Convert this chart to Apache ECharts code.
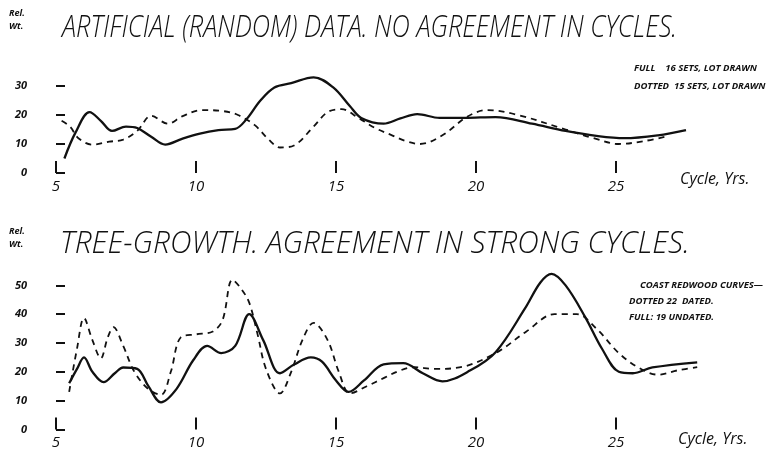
<!DOCTYPE html>
<html><head><meta charset="utf-8">
<script src="https://cdn.jsdelivr.net/npm/echarts@6/dist/echarts.min.js"></script>
<style>html,body{margin:0;padding:0;background:#fff;}#c{width:768px;height:453px;}</style>
</head><body><div id="c"></div>
<script>
// ---- data ----
var xTicks = [5, 10, 15, 20, 25];
var topYTicks = [0, 10, 20, 30];
var botYTicks = [0, 10, 20, 30, 40, 50];

// Artificial (random) data: full = 16 sets, dotted = 15 sets
var artFull = [[5.3,5],[5.7,14],[6.2,21],[6.6,18],[7.0,14.5],[7.5,16],[7.9,15.5],[8.4,12.5],[8.9,9.8],[9.5,11.8],[10.1,13.5],[10.8,14.8],[11.4,15.2],[11.8,18.5],[12.3,25],[12.8,29.5],[13.4,31],[14.2,33],[14.9,29.5],[15.5,23],[15.9,19],[16.7,17],[17.3,18.8],[17.9,20.3],[18.7,19],[19.6,19],[20.7,19.3],[22.0,17],[23.2,14.5],[24.3,12.8],[25.3,12],[26.5,13],[27.5,14.8]];
var artDotted = [[5.2,18],[5.5,16],[5.8,12],[6.3,9.8],[6.9,10.8],[7.4,11.5],[7.9,14.5],[8.4,19.7],[9.0,17],[9.5,19.5],[10.2,21.7],[11.0,21.3],[11.5,20],[12.1,16.5],[12.6,11.5],[13.0,8.8],[13.5,9.5],[14.2,16],[14.7,21],[15.2,22],[15.8,19],[16.4,15.5],[17.0,13],[17.5,11],[18.0,10],[18.8,13],[19.7,19.5],[20.4,21.7],[21.5,20],[23.2,15],[24.2,12],[25.1,10],[26.0,11],[26.9,12.8]];

// Tree growth (coast redwood): full = 19 undated, dotted = 22 dated
var treeFull = [[5.47,16],[5.75,21],[6.0,25],[6.3,20],[6.7,16.4],[7.1,19.5],[7.4,21.5],[7.9,21],[8.3,15],[8.75,9.4],[9.3,14],[9.9,24],[10.4,29],[10.9,26.5],[11.4,29],[11.9,40],[12.4,31],[13.0,19.5],[13.5,22.5],[14.1,25],[14.5,23.5],[15.0,17],[15.45,13],[16.0,17],[16.7,22.6],[17.4,23],[18.1,19.5],[18.8,16.7],[19.8,20.5],[20.7,26.8],[21.75,42],[22.3,51],[22.7,54],[23.2,50],[23.9,39],[24.5,28],[25.1,20],[25.6,19.5],[26.3,21.5],[27.9,23.3]];
var treeDotted = [[5.47,13],[5.75,28],[6.0,38.7],[6.3,31],[6.6,24.7],[6.85,32],[7.05,35.5],[7.4,29],[7.8,20],[8.3,14],[8.75,12],[9.1,20],[9.46,32],[10.0,33],[10.6,34],[10.95,38],[11.3,52],[11.6,49],[11.9,44],[12.2,33],[12.5,21],[13.0,12.5],[13.4,20],[13.8,31],[14.2,37],[14.7,31],[15.1,20],[15.5,12.5],[16.1,15],[16.7,17.8],[17.3,20.5],[17.8,21.6],[18.5,21],[19.4,21.5],[20.7,26.5],[21.8,34],[22.8,40],[23.6,40],[24.3,35],[25.1,26.5],[25.8,21.5],[26.5,19],[27.2,20.5],[27.9,21.6]];

var title1 = 'ARTIFICIAL (RANDOM) DATA. NO AGREEMENT IN CYCLES.';
var title2 = 'TREE-GROWTH. AGREEMENT IN STRONG CYCLES.';
var legend1 = ['FULL    16 SETS, LOT DRAWN', 'DOTTED  15 SETS, LOT DRAWN'];
var legend2 = ['COAST REDWOOD CURVES\u2014', 'DOTTED 22  DATED.', 'FULL: 19 UNDATED.'];
var axisName = 'Cycle, Yrs.';
var yName = ['Rel.', 'Wt.'];

// ---- chart ----
var INK = '#111';
var HAND = '"Open Sans", "DejaVu Sans", sans-serif';

function xAxisCfg(idx) {
  return {
    gridIndex: idx, type: 'value', min: 5, max: 28,
    axisLine: {show: false}, splitLine: {show: false},
    axisTick: {show: true, inside: true, length: 12, customValues: xTicks, lineStyle: {color: INK, width: 2}},
    axisLabel: {customValues: xTicks, margin: 6, color: INK, fontFamily: HAND, fontStyle: 'italic', fontSize: 15}
  };
}
function yAxisCfg(idx, max, ticks) {
  return {
    gridIndex: idx, type: 'value', min: 0, max: max,
    axisLine: {show: false}, splitLine: {show: false},
    axisTick: {show: true, inside: true, length: 9, customValues: ticks, lineStyle: {color: INK, width: 2}},
    axisLabel: {customValues: ticks, margin: 29, color: INK, fontFamily: HAND, fontStyle: 'italic', fontWeight: 'bold', fontSize: 11, align: 'right'}
  };
}
function lineSeries(data, xi, dashed) {
  return {
    type: 'line', xAxisIndex: xi, yAxisIndex: xi, data: data, smooth: 0.35,
    symbol: 'none', silent: true,
    lineStyle: {color: INK, width: dashed ? 1.8 : 2.3, type: dashed ? [6, 5] : 'solid'}
  };
}
function txt(x, y, text, font, sx) {
  return {type: 'text', x: x, y: y, scaleX: sx || 1, silent: true,
    style: {text: text, fill: INK, font: font, textVerticalAlign: 'top'}};
}
var TITLE = 'italic 300 31px ' + HAND;
var SMALL = 'italic bold 9.5px ' + HAND;
var TINY = 'italic bold 9px ' + HAND;
var NAME = 'italic 16px ' + HAND;

var chart = echarts.init(document.getElementById('c'), null, {renderer: 'canvas'});
chart.setOption({
  backgroundColor: '#fff',
  animation: false,
  grid: [
    {left: 56, width: 644, top: 71.5, height: 101.5},
    {left: 56, width: 644, top: 271, height: 158.4}
  ],
  xAxis: [xAxisCfg(0), xAxisCfg(1)],
  yAxis: [yAxisCfg(0, 35, topYTicks), yAxisCfg(1, 55, botYTicks)],
  series: [
    lineSeries(artFull, 0, false),
    lineSeries(artDotted, 0, true),
    lineSeries(treeFull, 1, false),
    lineSeries(treeDotted, 1, true)
  ],
  graphic: [
    txt(9, 9, yName[0], TINY),
    txt(9, 22, yName[1], TINY),
    txt(62, 13, title1, TITLE, 0.82),
    txt(634, 63, legend1[0], SMALL),
    txt(634, 81, legend1[1], SMALL),
    txt(680, 171, axisName, NAME),
    txt(9, 227, yName[0], TINY),
    txt(9, 240, yName[1], TINY),
    txt(60, 229, title2, TITLE, 0.965),
    txt(640, 280, legend2[0], SMALL),
    txt(629, 296, legend2[1], SMALL),
    txt(629, 312, legend2[2], SMALL),
    txt(678, 431, axisName, NAME)
  ]
});
</script></body></html>
